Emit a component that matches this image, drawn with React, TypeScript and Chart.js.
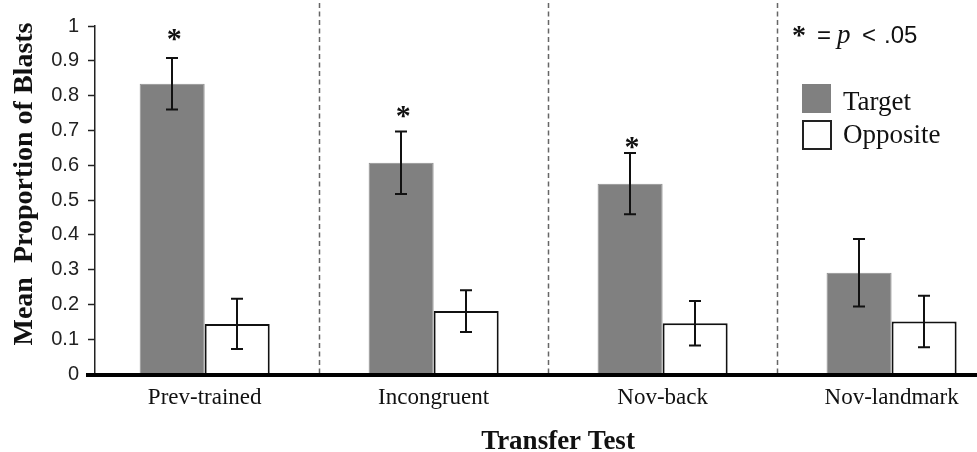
import React, { useEffect, useRef } from "react";
import { Chart, registerables } from "chart.js";

Chart.register(...registerables);

const categories = ["Prev-trained", "Incongruent", "Nov-back", "Nov-landmark"];
const targetMeans = [0.834, 0.607, 0.547, 0.291];
const targetSE = [0.074, 0.09, 0.088, 0.097];
const oppositeMeans = [0.144, 0.181, 0.146, 0.151];
const oppositeSE = [0.072, 0.06, 0.064, 0.074];
const significantAt = [0.974, 0.754, 0.664, null];
const yTicks = [0, 0.1, 0.2, 0.3, 0.4, 0.5, 0.6, 0.7, 0.8, 0.9, 1];

const X_MIN = -0.479;
const X_MAX = 3.373;
const SERIF = "'Liberation Serif', 'Times New Roman', serif";
const SANS = "'Liberation Sans', Arial, sans-serif";

function centeredGlyph(ctx: any, text: string, x: number, yc: number) {
  const m = ctx.measureText(text);
  const base = yc + (m.actualBoundingBoxAscent - m.actualBoundingBoxDescent) / 2;
  ctx.fillText(text, x, base);
}

const decor = {
  id: "decor",
  beforeDatasetsDraw(chart: any) {
    const ctx = chart.ctx;
    const xs = chart.scales.x;
    const area = chart.chartArea;
    ctx.save();
    ctx.strokeStyle = "#666";
    ctx.lineWidth = 1.5;
    ctx.setLineDash([5, 3.5]);
    for (let i = 0; i < categories.length - 1; i++) {
      const x = Math.round(xs.getPixelForValue(i + 0.5)) + 0.5;
      ctx.beginPath();
      ctx.moveTo(x, 3);
      ctx.lineTo(x, area.bottom);
      ctx.stroke();
    }
    ctx.restore();
  },
  afterDatasetsDraw(chart: any) {
    const ctx = chart.ctx;
    const ys = chart.scales.y;
    const area = chart.chartArea;
    ctx.save();
    // thick x axis line
    ctx.fillStyle = "#000";
    ctx.fillRect(86, area.bottom - 1, chart.width - 86, 4);

    // error bars
    const series = [
      { means: targetMeans, se: targetSE },
      { means: oppositeMeans, se: oppositeSE },
    ];
    ctx.strokeStyle = "#111";
    ctx.lineWidth = 2;
    series.forEach((s, di) => {
      const meta = chart.getDatasetMeta(di);
      meta.data.forEach((bar: any, i: number) => {
        const x = Math.round(bar.x);
        const hi = ys.getPixelForValue(s.means[i] + s.se[i]);
        const lo = ys.getPixelForValue(s.means[i] - s.se[i]);
        ctx.beginPath();
        ctx.moveTo(x, hi);
        ctx.lineTo(x, lo);
        ctx.moveTo(x - 6, hi);
        ctx.lineTo(x + 6, hi);
        ctx.moveTo(x - 6, lo);
        ctx.lineTo(x + 6, lo);
        ctx.stroke();
      });
    });

    // significance asterisks
    ctx.fillStyle = "#111";
    ctx.font = `bold 30px ${SERIF}`;
    ctx.textAlign = "center";
    ctx.textBaseline = "alphabetic";
    const meta0 = chart.getDatasetMeta(0);
    significantAt.forEach((v, i) => {
      if (v == null) return;
      centeredGlyph(ctx, "*", meta0.data[i].x + 2, ys.getPixelForValue(v));
    });

    // p note
    ctx.font = `bold 28px ${SERIF}`;
    centeredGlyph(ctx, "*", 799, 31);
    ctx.textAlign = "left";
    ctx.font = `24px ${SANS}`;
    ctx.fillText("=", 817, 43);
    ctx.font = `italic 27px ${SERIF}`;
    ctx.fillText("p", 837, 43);
    ctx.font = `24px ${SANS}`;
    ctx.fillText("<", 862, 43);
    ctx.fillText(".05", 884, 43);

    // legend
    ctx.fillStyle = "#808080";
    ctx.fillRect(802, 84, 29, 29);
    ctx.fillStyle = "#fff";
    ctx.fillRect(803, 121, 28, 28);
    ctx.strokeStyle = "#222";
    ctx.lineWidth = 2;
    ctx.strokeRect(803, 121, 28, 28);
    ctx.fillStyle = "#111";
    ctx.font = `27px ${SERIF}`;
    ctx.fillText("Target", 843, 110);
    ctx.fillText("Opposite", 843, 143);

    // axis titles
    ctx.font = `bold 27px ${SERIF}`;
    ctx.textAlign = "center";
    ctx.fillText("Transfer Test", 558, 449);
    ctx.translate(32, 184);
    ctx.rotate(-Math.PI / 2);
    ctx.font = `bold 28px ${SERIF}`;
    ctx.fillText("Mean  Proportion of Blasts", 0, 0);
    ctx.restore();
  },
};

export default function App() {
  const ref = useRef<HTMLCanvasElement | null>(null);
  useEffect(() => {
    document.body.style.margin = "0";
    const canvas = ref.current;
    if (!canvas) return;
    const chart = new Chart(canvas, {
      type: "bar",
      data: {
        datasets: [
          {
            label: "Target",
            data: targetMeans.map((v, i) => ({ x: i, y: v })),
            backgroundColor: "#808080",
            borderColor: "#8e8e8e",
            borderWidth: 1,
            categoryPercentage: 0.568,
            barPercentage: 1,
          },
          {
            label: "Opposite",
            data: oppositeMeans.map((v, i) => ({ x: i, y: v })),
            backgroundColor: "#ffffff",
            borderColor: "#111",
            borderWidth: 2,
            categoryPercentage: 0.568,
            barPercentage: 1,
          },
        ],
      },
      options: {
        responsive: false,
        animation: false,
        layout: { padding: { top: 26, left: 0, right: 0, bottom: 0 } },
        plugins: { legend: { display: false }, tooltip: { enabled: false } },
        scales: {
          x: {
            type: "linear",
            min: X_MIN,
            max: X_MAX,
            offset: false,
            grid: { display: false, offset: false, drawTicks: false },
            border: { display: false },
            afterBuildTicks: (scale: any) => {
              scale.ticks = categories.map((_, i) => ({ value: i }));
            },
            afterFit: (scale: any) => {
              scale.height = 78;
            },
            ticks: {
              autoSkip: false,
              maxRotation: 0,
              padding: 10,
              color: "#111",
              font: { family: SERIF, size: 23 },
              callback: (v: any) => categories[Math.round(Number(v))] ?? "",
            },
          },
          y: {
            min: 0,
            max: 1,
            afterBuildTicks: (scale: any) => {
              scale.ticks = yTicks.map((v) => ({ value: v }));
            },
            afterFit: (scale: any) => {
              scale.width = 95;
            },
            grid: {
              drawOnChartArea: false,
              drawTicks: true,
              tickLength: 7,
              tickColor: "#222",
              tickWidth: 1.5,
            },
            border: { display: true, color: "#222", width: 1.5 },
            ticks: {
              padding: 9,
              color: "#222",
              font: { family: SANS, size: 20 },
              callback: (v: any) => String(Number(Number(v).toFixed(1))),
            },
          },
        },
      },
      plugins: [decor],
    });
    return () => chart.destroy();
  }, []);
  return (
    <div style={{ width: 977, height: 452 }}>
      <canvas ref={ref} width={977} height={452} />
    </div>
  );
}
